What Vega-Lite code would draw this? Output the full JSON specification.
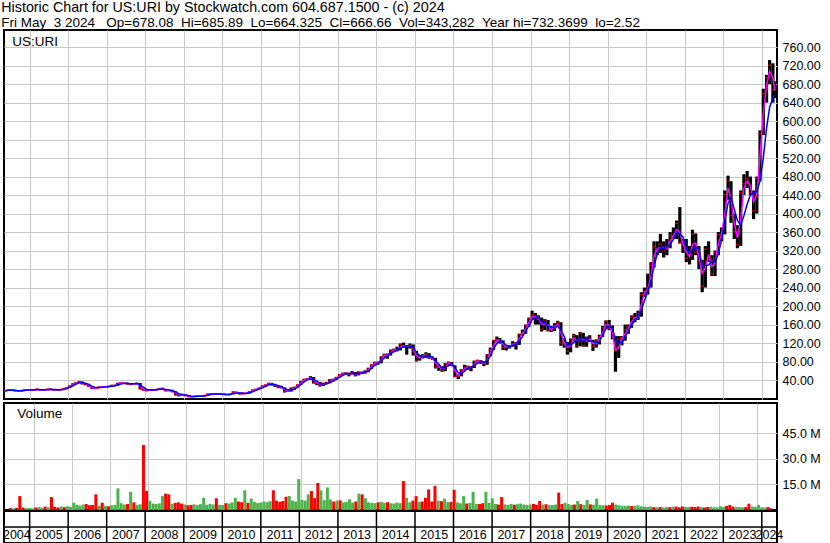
{
"$schema": "https://vega.github.io/schema/vega-lite/v6.json",
"padding": {"left": 1, "top": 1, "right": 0, "bottom": 0},
"background": "white",
"title": {"text": "Historic Chart for US:URI by Stockwatch.com 604.687.1500 - (c) 2024", "subtitle": "Fri May\u00a0\u00a03 2024\u00a0\u00a0\u00a0Op=678.08\u00a0\u00a0Hi=685.89\u00a0\u00a0Lo=664.325\u00a0\u00a0Cl=666.66\u00a0\u00a0Vol=343,282\u00a0\u00a0Year hi=732.3699\u00a0\u00a0lo=2.52", "anchor": "start", "frame": "bounds", "fontSize": 14.3, "subtitleFontSize": 13.5, "subtitleFont": "Liberation Sans", "subtitleColor": "#000000", "subtitlePadding": 0, "offset": 0},
"config": {
 "view": {"stroke": "#000000", "strokeWidth": 2},
 "axis": {"gridColor": "#c8c8c8", "gridWidth": 1, "gridOpacity": 1, "labelFont": "Liberation Sans", "labelFontSize": 12.5, "labelColor": "#000000", "labelOverlap": false, "labelSeparation": 0},
 "title": {"font": "Liberation Sans", "fontWeight": "normal", "color": "#000000"}
},
"datasets": {"p": [
{"d":"2004-05-15","h":18.5,"l":15.5,"c":17.0,"a":17.0,"b":17.0,"v":1.2,"g":0},
{"d":"2004-06-15","h":19.5,"l":16.8,"c":18.5,"a":17.75,"b":17.75,"v":1.0,"g":1},
{"d":"2004-07-15","h":19.5,"l":16.5,"c":18.0,"a":18.25,"b":17.83,"v":1.3,"g":0},
{"d":"2004-08-15","h":18.5,"l":15.5,"c":17.0,"a":17.5,"b":17.83,"v":8.2,"g":0},
{"d":"2004-09-15","h":17.8,"l":15.0,"c":16.0,"a":16.5,"b":17.0,"v":1.5,"g":0},
{"d":"2004-10-15","h":18.0,"l":15.2,"c":17.5,"a":16.75,"b":16.83,"v":1.1,"g":1},
{"d":"2004-11-15","h":19.5,"l":17.0,"c":18.6,"a":18.05,"b":17.37,"v":1.2,"g":1},
{"d":"2004-12-15","h":19.8,"l":17.8,"c":18.9,"a":18.75,"b":18.33,"v":0.9,"g":1},
{"d":"2005-01-15","h":19.5,"l":17.0,"c":17.8,"a":18.35,"b":18.43,"v":1.5,"g":0},
{"d":"2005-02-15","h":20.5,"l":17.5,"c":19.5,"a":18.65,"b":18.73,"v":1.8,"g":1},
{"d":"2005-03-15","h":21.5,"l":19.0,"c":20.2,"a":19.85,"b":19.17,"v":1.4,"g":1},
{"d":"2005-04-15","h":20.5,"l":17.2,"c":18.0,"a":19.1,"b":19.23,"v":2.0,"g":0},
{"d":"2005-05-15","h":19.8,"l":17.5,"c":19.2,"a":18.6,"b":19.13,"v":1.6,"g":1},
{"d":"2005-06-15","h":20.8,"l":18.8,"c":20.2,"a":19.7,"b":19.13,"v":7.6,"g":0},
{"d":"2005-07-15","h":22.0,"l":19.0,"c":19.5,"a":19.85,"b":19.63,"v":1.9,"g":0},
{"d":"2005-08-15","h":20.0,"l":18.0,"c":18.5,"a":19.0,"b":19.4,"v":1.5,"g":0},
{"d":"2005-09-15","h":20.2,"l":17.8,"c":19.7,"a":19.1,"b":19.23,"v":2.1,"g":1},
{"d":"2005-10-15","h":20.0,"l":17.5,"c":18.2,"a":18.95,"b":18.8,"v":1.7,"g":0},
{"d":"2005-11-15","h":22.0,"l":18.0,"c":21.5,"a":19.85,"b":19.8,"v":2.2,"g":1},
{"d":"2005-12-15","h":24.0,"l":21.0,"c":23.4,"a":22.45,"b":21.03,"v":1.9,"g":1},
{"d":"2006-01-15","h":28.5,"l":23.0,"c":27.5,"a":25.45,"b":24.13,"v":4.3,"g":1},
{"d":"2006-02-15","h":33.0,"l":27.0,"c":32.0,"a":29.75,"b":27.63,"v":3.0,"g":1},
{"d":"2006-03-15","h":35.0,"l":31.0,"c":34.4,"a":33.2,"b":31.3,"v":2.6,"g":1},
{"d":"2006-04-15","h":38.0,"l":33.5,"c":36.0,"a":35.2,"b":34.13,"v":3.2,"g":1},
{"d":"2006-05-15","h":37.0,"l":30.5,"c":32.0,"a":34.0,"b":34.13,"v":3.5,"g":0},
{"d":"2006-06-15","h":33.5,"l":28.5,"c":31.8,"a":31.9,"b":33.27,"v":2.8,"g":0},
{"d":"2006-07-15","h":32.0,"l":25.0,"c":26.5,"a":29.15,"b":30.1,"v":3.0,"g":0},
{"d":"2006-08-15","h":26.5,"l":20.5,"c":22.5,"a":24.5,"b":26.93,"v":9.2,"g":0},
{"d":"2006-09-15","h":24.5,"l":21.5,"c":23.3,"a":22.9,"b":24.1,"v":2.5,"g":1},
{"d":"2006-10-15","h":26.0,"l":22.5,"c":24.5,"a":23.9,"b":23.43,"v":4.3,"g":0},
{"d":"2006-11-15","h":27.0,"l":24.0,"c":25.5,"a":25.0,"b":24.43,"v":2.4,"g":1},
{"d":"2006-12-15","h":26.5,"l":24.5,"c":25.4,"a":25.45,"b":25.13,"v":2.2,"g":0},
{"d":"2007-01-15","h":27.5,"l":24.5,"c":26.0,"a":25.7,"b":25.63,"v":2.8,"g":1},
{"d":"2007-02-15","h":29.5,"l":25.5,"c":28.5,"a":27.25,"b":26.63,"v":3.0,"g":1},
{"d":"2007-03-15","h":30.0,"l":26.5,"c":27.5,"a":28.0,"b":27.33,"v":12.7,"g":1},
{"d":"2007-04-15","h":34.0,"l":27.5,"c":33.0,"a":30.25,"b":29.67,"v":4.0,"g":1},
{"d":"2007-05-15","h":35.0,"l":32.5,"c":34.0,"a":33.5,"b":31.5,"v":3.2,"g":1},
{"d":"2007-06-15","h":34.2,"l":32.0,"c":32.5,"a":33.25,"b":33.17,"v":3.5,"g":0},
{"d":"2007-07-15","h":34.0,"l":30.0,"c":32.2,"a":32.35,"b":32.9,"v":10.7,"g":1},
{"d":"2007-08-15","h":33.0,"l":29.0,"c":31.5,"a":31.85,"b":32.07,"v":4.5,"g":0},
{"d":"2007-09-15","h":33.0,"l":30.5,"c":32.2,"a":31.85,"b":31.97,"v":3.0,"g":1},
{"d":"2007-10-15","h":34.0,"l":31.5,"c":33.2,"a":32.7,"b":32.3,"v":3.4,"g":1},
{"d":"2007-11-15","h":33.5,"l":19.5,"c":22.0,"a":27.6,"b":29.13,"v":38.2,"g":0},
{"d":"2007-12-15","h":22.0,"l":17.0,"c":18.4,"a":20.2,"b":24.53,"v":11.2,"g":0},
{"d":"2008-01-15","h":20.0,"l":15.5,"c":18.5,"a":18.45,"b":19.63,"v":5.3,"g":1},
{"d":"2008-02-15","h":20.5,"l":17.0,"c":18.5,"a":18.5,"b":18.47,"v":3.8,"g":1},
{"d":"2008-03-15","h":20.0,"l":16.5,"c":18.8,"a":18.65,"b":18.6,"v":3.5,"g":1},
{"d":"2008-04-15","h":21.0,"l":17.8,"c":19.2,"a":19.0,"b":18.83,"v":3.9,"g":1},
{"d":"2008-05-15","h":23.0,"l":18.8,"c":21.5,"a":20.35,"b":19.83,"v":8.2,"g":1},
{"d":"2008-06-15","h":23.5,"l":19.0,"c":19.6,"a":20.55,"b":20.1,"v":9.6,"g":0},
{"d":"2008-07-15","h":20.5,"l":15.5,"c":17.0,"a":18.3,"b":19.37,"v":9.2,"g":0},
{"d":"2008-08-15","h":19.5,"l":16.0,"c":18.0,"a":17.5,"b":18.2,"v":3.6,"g":1},
{"d":"2008-09-15","h":19.0,"l":13.5,"c":15.2,"a":16.6,"b":16.73,"v":4.2,"g":0},
{"d":"2008-10-15","h":15.5,"l":6.5,"c":9.0,"a":12.1,"b":14.07,"v":4.5,"g":0},
{"d":"2008-11-15","h":9.5,"l":4.5,"c":7.0,"a":8.0,"b":10.4,"v":3.8,"g":0},
{"d":"2008-12-15","h":10.0,"l":6.5,"c":9.1,"a":8.05,"b":8.37,"v":3.2,"g":1},
{"d":"2009-01-15","h":9.5,"l":5.5,"c":6.0,"a":7.55,"b":7.37,"v":2.8,"g":0},
{"d":"2009-02-15","h":6.5,"l":3.2,"c":4.0,"a":5.0,"b":6.37,"v":3.0,"g":0},
{"d":"2009-03-15","h":5.0,"l":2.5,"c":4.2,"a":4.1,"b":4.73,"v":3.3,"g":1},
{"d":"2009-04-15","h":6.0,"l":3.8,"c":4.5,"a":4.35,"b":4.23,"v":2.9,"g":1},
{"d":"2009-05-15","h":6.5,"l":4.2,"c":5.5,"a":5.0,"b":4.73,"v":3.4,"g":1},
{"d":"2009-06-15","h":6.5,"l":4.8,"c":5.2,"a":5.35,"b":5.07,"v":7.2,"g":1},
{"d":"2009-07-15","h":7.0,"l":4.8,"c":6.5,"a":5.85,"b":5.73,"v":3.1,"g":1},
{"d":"2009-08-15","h":10.5,"l":6.3,"c":9.5,"a":8.0,"b":7.07,"v":3.6,"g":1},
{"d":"2009-09-15","h":11.5,"l":8.8,"c":10.3,"a":9.9,"b":8.77,"v":3.2,"g":1},
{"d":"2009-10-15","h":11.0,"l":8.5,"c":9.0,"a":9.65,"b":9.6,"v":6.9,"g":0},
{"d":"2009-11-15","h":10.5,"l":8.2,"c":9.5,"a":9.25,"b":9.6,"v":3.0,"g":1},
{"d":"2009-12-15","h":10.8,"l":9.0,"c":9.8,"a":9.65,"b":9.43,"v":2.9,"g":1},
{"d":"2010-01-15","h":11.0,"l":8.0,"c":8.3,"a":9.05,"b":9.2,"v":4.0,"g":0},
{"d":"2010-02-15","h":9.5,"l":7.5,"c":8.5,"a":8.4,"b":8.87,"v":3.8,"g":1},
{"d":"2010-03-15","h":10.5,"l":8.0,"c":9.4,"a":8.95,"b":8.73,"v":4.5,"g":1},
{"d":"2010-04-15","h":15.5,"l":9.0,"c":14.0,"a":11.7,"b":10.63,"v":7.2,"g":1},
{"d":"2010-05-15","h":15.0,"l":10.5,"c":12.5,"a":13.25,"b":11.97,"v":5.0,"g":0},
{"d":"2010-06-15","h":13.0,"l":9.0,"c":9.3,"a":10.9,"b":11.93,"v":4.6,"g":0},
{"d":"2010-07-15","h":12.5,"l":9.0,"c":12.0,"a":10.65,"b":11.27,"v":11.6,"g":1},
{"d":"2010-08-15","h":12.5,"l":9.8,"c":11.0,"a":11.5,"b":10.77,"v":4.2,"g":0},
{"d":"2010-09-15","h":15.5,"l":10.8,"c":14.8,"a":12.9,"b":12.6,"v":6.7,"g":1},
{"d":"2010-10-15","h":19.0,"l":14.5,"c":18.5,"a":16.65,"b":14.77,"v":4.8,"g":1},
{"d":"2010-11-15","h":21.0,"l":17.5,"c":20.0,"a":19.25,"b":17.77,"v":4.1,"g":1},
{"d":"2010-12-15","h":23.5,"l":19.5,"c":22.7,"a":21.35,"b":20.4,"v":4.4,"g":1},
{"d":"2011-01-15","h":28.0,"l":22.5,"c":27.0,"a":24.85,"b":23.23,"v":5.0,"g":1},
{"d":"2011-02-15","h":30.5,"l":25.5,"c":30.0,"a":28.5,"b":26.57,"v":4.6,"g":1},
{"d":"2011-03-15","h":33.8,"l":28.5,"c":33.3,"a":31.65,"b":30.1,"v":5.2,"g":1},
{"d":"2011-04-15","h":34.0,"l":28.5,"c":30.0,"a":31.65,"b":31.1,"v":11.6,"g":0},
{"d":"2011-05-15","h":30.5,"l":25.0,"c":27.5,"a":28.75,"b":30.27,"v":5.5,"g":0},
{"d":"2011-06-15","h":28.0,"l":22.5,"c":25.4,"a":26.45,"b":27.63,"v":4.8,"g":0},
{"d":"2011-07-15","h":27.5,"l":22.0,"c":24.0,"a":24.7,"b":25.63,"v":5.3,"g":0},
{"d":"2011-08-15","h":24.0,"l":13.0,"c":15.5,"a":19.75,"b":21.63,"v":7.8,"g":0},
{"d":"2011-09-15","h":19.5,"l":14.0,"c":16.8,"a":16.15,"b":18.77,"v":8.2,"g":1},
{"d":"2011-10-15","h":24.0,"l":15.0,"c":20.0,"a":18.4,"b":17.43,"v":5.6,"g":1},
{"d":"2011-11-15","h":25.5,"l":18.5,"c":24.0,"a":22.0,"b":20.27,"v":5.0,"g":1},
{"d":"2011-12-15","h":30.5,"l":23.5,"c":29.6,"a":26.8,"b":24.53,"v":18.2,"g":1},
{"d":"2012-01-15","h":38.0,"l":29.5,"c":37.0,"a":33.3,"b":30.2,"v":6.0,"g":1},
{"d":"2012-02-15","h":42.5,"l":36.0,"c":41.5,"a":39.25,"b":36.03,"v":5.5,"g":1},
{"d":"2012-03-15","h":44.0,"l":40.0,"c":42.9,"a":42.2,"b":40.47,"v":9.2,"g":1},
{"d":"2012-04-15","h":48.5,"l":41.0,"c":46.0,"a":44.45,"b":43.47,"v":11.2,"g":0},
{"d":"2012-05-15","h":46.5,"l":32.5,"c":33.8,"a":39.9,"b":40.9,"v":7.0,"g":0},
{"d":"2012-06-15","h":35.5,"l":29.0,"c":34.0,"a":33.9,"b":37.93,"v":15.9,"g":0},
{"d":"2012-07-15","h":36.0,"l":26.0,"c":28.0,"a":31.0,"b":31.93,"v":11.6,"g":1},
{"d":"2012-08-15","h":34.0,"l":27.0,"c":33.0,"a":30.5,"b":31.67,"v":5.8,"g":1},
{"d":"2012-09-15","h":36.0,"l":31.5,"c":32.7,"a":32.85,"b":31.23,"v":13.3,"g":1},
{"d":"2012-10-15","h":42.0,"l":32.5,"c":40.5,"a":36.6,"b":35.4,"v":6.2,"g":1},
{"d":"2012-11-15","h":43.0,"l":37.0,"c":40.5,"a":40.5,"b":37.9,"v":5.0,"g":0},
{"d":"2012-12-15","h":46.5,"l":40.0,"c":45.5,"a":43.0,"b":42.17,"v":5.5,"g":1},
{"d":"2013-01-15","h":52.5,"l":45.5,"c":51.5,"a":48.5,"b":45.83,"v":5.7,"g":0},
{"d":"2013-02-15","h":56.0,"l":50.5,"c":54.0,"a":52.75,"b":50.33,"v":4.5,"g":1},
{"d":"2013-03-15","h":56.5,"l":52.0,"c":55.0,"a":54.5,"b":53.5,"v":4.8,"g":1},
{"d":"2013-04-15","h":56.0,"l":48.0,"c":52.5,"a":53.75,"b":53.83,"v":6.3,"g":1},
{"d":"2013-05-15","h":59.5,"l":52.0,"c":57.0,"a":54.75,"b":54.83,"v":4.4,"g":1},
{"d":"2013-06-15","h":57.5,"l":48.0,"c":50.0,"a":53.5,"b":53.17,"v":5.0,"g":0},
{"d":"2013-07-15","h":58.5,"l":50.0,"c":57.5,"a":53.75,"b":54.83,"v":9.6,"g":1},
{"d":"2013-08-15","h":58.5,"l":53.0,"c":55.0,"a":56.25,"b":54.17,"v":9.2,"g":0},
{"d":"2013-09-15","h":61.0,"l":54.0,"c":58.3,"a":56.65,"b":56.93,"v":6.9,"g":1},
{"d":"2013-10-15","h":66.5,"l":57.0,"c":65.0,"a":61.65,"b":59.43,"v":4.5,"g":1},
{"d":"2013-11-15","h":74.0,"l":64.5,"c":72.5,"a":68.75,"b":65.27,"v":4.2,"g":1},
{"d":"2013-12-15","h":79.5,"l":71.0,"c":78.0,"a":75.25,"b":71.83,"v":4.0,"g":1},
{"d":"2014-01-15","h":80,"l":73,"c":77,"a":77.5,"b":75.83,"v":4.5,"g":0},
{"d":"2014-02-15","h":91.5,"l":76,"c":90,"a":83.5,"b":81.67,"v":4.8,"g":1},
{"d":"2014-03-15","h":97,"l":88,"c":95,"a":92.5,"b":87.33,"v":4.2,"g":1},
{"d":"2014-04-15","h":97.5,"l":86,"c":94,"a":94.5,"b":93,"v":4.6,"g":0},
{"d":"2014-05-15","h":106,"l":93,"c":104,"a":99,"b":97.67,"v":3.9,"g":1},
{"d":"2014-06-15","h":108,"l":101,"c":105,"a":104.5,"b":101,"v":3.8,"g":1},
{"d":"2014-07-15","h":112,"l":102,"c":106,"a":105.5,"b":105,"v":4.4,"g":1},
{"d":"2014-08-15","h":119,"l":104,"c":117,"a":111.5,"b":109.33,"v":4.0,"g":1},
{"d":"2014-09-15","h":121,"l":110,"c":111,"a":114,"b":111.33,"v":17.0,"g":0},
{"d":"2014-10-15","h":116,"l":95,"c":114,"a":112.5,"b":114,"v":7.2,"g":1},
{"d":"2014-11-15","h":119,"l":108,"c":115,"a":114.5,"b":113.33,"v":4.5,"g":1},
{"d":"2014-12-15","h":117,"l":93,"c":102,"a":108.5,"b":110.33,"v":5.5,"g":0},
{"d":"2015-01-15","h":103,"l":80,"c":83,"a":92.5,"b":100,"v":8.2,"g":0},
{"d":"2015-02-15","h":94,"l":82,"c":92,"a":87.5,"b":92.33,"v":4.8,"g":1},
{"d":"2015-03-15","h":96,"l":87,"c":91,"a":91.5,"b":88.67,"v":5.0,"g":0},
{"d":"2015-04-15","h":100,"l":88,"c":96,"a":93.5,"b":93,"v":7.2,"g":0},
{"d":"2015-05-15","h":98,"l":86,"c":88,"a":92,"b":91.67,"v":12.1,"g":0},
{"d":"2015-06-15","h":90,"l":84,"c":87,"a":87.5,"b":90.33,"v":5.0,"g":0},
{"d":"2015-07-15","h":88,"l":65,"c":68,"a":77.5,"b":81,"v":14.1,"g":0},
{"d":"2015-08-15","h":73,"l":60,"c":68,"a":68,"b":74.33,"v":5.5,"g":1},
{"d":"2015-09-15","h":70,"l":58,"c":60,"a":64,"b":65.33,"v":5.2,"g":0},
{"d":"2015-10-15","h":77,"l":59,"c":75,"a":67.5,"b":67.67,"v":6.7,"g":1},
{"d":"2015-11-15","h":80,"l":70,"c":78,"a":76.5,"b":71,"v":4.6,"g":1},
{"d":"2015-12-15","h":79,"l":70,"c":72.5,"a":75.25,"b":75.17,"v":4.8,"g":0},
{"d":"2016-01-15","h":72,"l":46,"c":48,"a":60.25,"b":66.17,"v":11.9,"g":0},
{"d":"2016-02-15","h":53,"l":42,"c":49,"a":48.5,"b":56.5,"v":4.5,"g":1},
{"d":"2016-03-15","h":64,"l":48,"c":62,"a":55.5,"b":53,"v":4.0,"g":1},
{"d":"2016-04-15","h":73,"l":59,"c":68,"a":65,"b":59.67,"v":8.2,"g":1},
{"d":"2016-05-15","h":71,"l":62,"c":67,"a":67.5,"b":65.67,"v":3.8,"g":0},
{"d":"2016-06-15","h":70,"l":59,"c":67,"a":67,"b":67.33,"v":4.2,"g":1},
{"d":"2016-07-15","h":82,"l":66,"c":80,"a":73.5,"b":71.33,"v":10.7,"g":1},
{"d":"2016-08-15","h":84,"l":77,"c":82,"a":81,"b":76.33,"v":3.6,"g":1},
{"d":"2016-09-15","h":83,"l":75,"c":78,"a":80,"b":80,"v":3.5,"g":0},
{"d":"2016-10-15","h":80,"l":70,"c":75,"a":76.5,"b":78.33,"v":4.0,"g":0},
{"d":"2016-11-15","h":96,"l":73,"c":93,"a":84,"b":82,"v":10.7,"g":1},
{"d":"2016-12-15","h":110,"l":92,"c":105.5,"a":99.25,"b":91.17,"v":4.1,"g":1},
{"d":"2017-01-15","h":127,"l":105,"c":125,"a":115.25,"b":107.83,"v":6.9,"g":1},
{"d":"2017-02-15","h":134,"l":122,"c":127,"a":126,"b":119.17,"v":3.5,"g":1},
{"d":"2017-03-15","h":131,"l":119,"c":125,"a":126,"b":125.67,"v":3.2,"g":0},
{"d":"2017-04-15","h":126,"l":105,"c":110,"a":117.5,"b":120.67,"v":7.6,"g":0},
{"d":"2017-05-15","h":115,"l":104,"c":112,"a":111,"b":115.67,"v":3.3,"g":1},
{"d":"2017-06-15","h":116,"l":108,"c":113,"a":112.5,"b":111.67,"v":3.0,"g":1},
{"d":"2017-07-15","h":124,"l":112,"c":119,"a":116,"b":114.67,"v":3.6,"g":1},
{"d":"2017-08-15","h":122,"l":106,"c":119,"a":119,"b":117,"v":3.1,"g":0},
{"d":"2017-09-15","h":140,"l":116,"c":139,"a":129,"b":125.67,"v":3.4,"g":1},
{"d":"2017-10-15","h":149,"l":136,"c":142,"a":140.5,"b":133.33,"v":3.8,"g":1},
{"d":"2017-11-15","h":160,"l":140,"c":158,"a":150,"b":146.33,"v":3.2,"g":1},
{"d":"2017-12-15","h":175,"l":155,"c":172,"a":165,"b":157.33,"v":3.0,"g":1},
{"d":"2018-01-15","h":190,"l":170,"c":181,"a":176.5,"b":170.33,"v":3.2,"g":1},
{"d":"2018-02-15","h":185,"l":160,"c":175,"a":178,"b":176,"v":3.6,"g":0},
{"d":"2018-03-15","h":180,"l":160,"c":172,"a":173.5,"b":176,"v":3.0,"g":0},
{"d":"2018-04-15","h":175,"l":145,"c":150,"a":161,"b":165.67,"v":5.3,"g":0},
{"d":"2018-05-15","h":172,"l":148,"c":170,"a":160,"b":164,"v":3.1,"g":1},
{"d":"2018-06-15","h":170,"l":145,"c":148,"a":159,"b":156,"v":3.4,"g":0},
{"d":"2018-07-15","h":155,"l":144,"c":149,"a":148.5,"b":155.67,"v":3.0,"g":1},
{"d":"2018-08-15","h":163,"l":146,"c":158,"a":153.5,"b":151.67,"v":2.9,"g":1},
{"d":"2018-09-15","h":168,"l":155,"c":164,"a":161,"b":157,"v":3.2,"g":1},
{"d":"2018-10-15","h":165,"l":114,"c":120,"a":142,"b":147.33,"v":10.2,"g":0},
{"d":"2018-11-15","h":130,"l":110,"c":120,"a":120,"b":134.67,"v":3.5,"g":0},
{"d":"2018-12-15","h":122,"l":95,"c":102,"a":111,"b":114,"v":4.3,"g":1},
{"d":"2019-01-15","h":130,"l":100,"c":126,"a":114,"b":116,"v":3.5,"g":1},
{"d":"2019-02-15","h":140,"l":124,"c":136,"a":131,"b":121.33,"v":3.0,"g":1},
{"d":"2019-03-15","h":137,"l":110,"c":114,"a":125,"b":125.33,"v":3.2,"g":0},
{"d":"2019-04-15","h":144,"l":113,"c":141,"a":127.5,"b":130.33,"v":5.3,"g":1},
{"d":"2019-05-15","h":142,"l":112,"c":115,"a":128,"b":123.33,"v":3.4,"g":0},
{"d":"2019-06-15","h":134,"l":112,"c":132,"a":123.5,"b":129.33,"v":3.0,"g":1},
{"d":"2019-07-15","h":137,"l":122,"c":126,"a":129,"b":124.33,"v":5.9,"g":1},
{"d":"2019-08-15","h":127,"l":103,"c":112,"a":119,"b":123.33,"v":3.3,"g":0},
{"d":"2019-09-15","h":128,"l":110,"c":125,"a":118.5,"b":121,"v":3.1,"g":1},
{"d":"2019-10-15","h":138,"l":117,"c":133,"a":129,"b":123.33,"v":6.7,"g":1},
{"d":"2019-11-15","h":157,"l":133,"c":153,"a":143,"b":137,"v":2.9,"g":1},
{"d":"2019-12-15","h":169,"l":150,"c":167,"a":160,"b":151,"v":2.8,"g":1},
{"d":"2020-01-15","h":170,"l":148,"c":152,"a":159.5,"b":157.33,"v":2.6,"g":0},
{"d":"2020-02-15","h":158,"l":128,"c":133,"a":142.5,"b":150.67,"v":3.0,"g":0},
{"d":"2020-03-15","h":135,"l":58,"c":103,"a":105,"b":129.33,"v":4.3,"g":0},
{"d":"2020-04-15","h":135,"l":88,"c":128,"a":110,"b":121.33,"v":3.2,"g":1},
{"d":"2020-05-15","h":135,"l":115,"c":130,"a":129,"b":120.33,"v":2.8,"g":1},
{"d":"2020-06-15","h":160,"l":125,"c":149,"a":139.5,"b":135.67,"v":2.5,"g":1},
{"d":"2020-07-15","h":160,"l":140,"c":155,"a":152,"b":144.67,"v":2.4,"g":1},
{"d":"2020-08-15","h":180,"l":153,"c":177,"a":166,"b":160.33,"v":2.6,"g":1},
{"d":"2020-09-15","h":185,"l":165,"c":174,"a":175.5,"b":168.67,"v":2.3,"g":0},
{"d":"2020-10-15","h":190,"l":170,"c":178,"a":176,"b":176.33,"v":2.5,"g":1},
{"d":"2020-11-15","h":230,"l":177,"c":225,"a":201.5,"b":192.33,"v":2.7,"g":1},
{"d":"2020-12-15","h":240,"l":220,"c":232,"a":228.5,"b":211.67,"v":2.2,"g":1},
{"d":"2021-01-15","h":270,"l":225,"c":241,"a":236.5,"b":232.67,"v":2.0,"g":1},
{"d":"2021-02-15","h":295,"l":240,"c":288,"a":264.5,"b":253.67,"v":1.8,"g":1},
{"d":"2021-03-15","h":340,"l":283,"c":329,"a":308.5,"b":286,"v":2.1,"g":1},
{"d":"2021-04-15","h":340,"l":310,"c":320,"a":324.5,"b":312.33,"v":1.7,"g":0},
{"d":"2021-05-15","h":356,"l":315,"c":334,"a":327,"b":327.67,"v":1.6,"g":1},
{"d":"2021-06-15","h":340,"l":305,"c":319,"a":326.5,"b":324.33,"v":1.8,"g":0},
{"d":"2021-07-15","h":345,"l":310,"c":329,"a":324,"b":327.33,"v":1.5,"g":1},
{"d":"2021-08-15","h":360,"l":325,"c":352,"a":340.5,"b":333.33,"v":1.6,"g":1},
{"d":"2021-09-15","h":370,"l":345,"c":351,"a":351.5,"b":344,"v":1.7,"g":0},
{"d":"2021-10-15","h":385,"l":345,"c":379,"a":365,"b":360.67,"v":1.9,"g":1},
{"d":"2021-11-15","h":414,"l":335,"c":338,"a":358.5,"b":356,"v":2.0,"g":0},
{"d":"2021-12-15","h":345,"l":315,"c":332,"a":335,"b":349.67,"v":1.6,"g":0},
{"d":"2022-01-15","h":345,"l":295,"c":303,"a":317.5,"b":324.33,"v":2.1,"g":0},
{"d":"2022-02-15","h":330,"l":290,"c":310,"a":306.5,"b":315,"v":1.8,"g":1},
{"d":"2022-03-15","h":365,"l":300,"c":355,"a":332.5,"b":322.67,"v":1.7,"g":1},
{"d":"2022-04-15","h":357,"l":310,"c":317,"a":336,"b":327.33,"v":1.9,"g":0},
{"d":"2022-05-15","h":330,"l":280,"c":298,"a":307.5,"b":323.33,"v":1.8,"g":0},
{"d":"2022-06-15","h":300,"l":230,"c":243,"a":270.5,"b":286,"v":2.0,"g":0},
{"d":"2022-07-15","h":330,"l":240,"c":323,"a":283,"b":288,"v":1.7,"g":1},
{"d":"2022-08-15","h":340,"l":295,"c":300,"a":311.5,"b":288.67,"v":1.5,"g":0},
{"d":"2022-09-15","h":310,"l":265,"c":270,"a":285,"b":297.67,"v":1.8,"g":0},
{"d":"2022-10-15","h":320,"l":265,"c":316,"a":293,"b":295.33,"v":1.9,"g":1},
{"d":"2022-11-15","h":360,"l":310,"c":355,"a":335.5,"b":313.67,"v":1.6,"g":1},
{"d":"2022-12-15","h":370,"l":340,"c":355,"a":355,"b":342,"v":1.5,"g":1},
{"d":"2023-01-15","h":450,"l":355,"c":441,"a":398,"b":383.67,"v":2.2,"g":1},
{"d":"2023-02-15","h":482,"l":430,"c":470,"a":455.5,"b":422,"v":1.9,"g":1},
{"d":"2023-03-15","h":470,"l":380,"c":396,"a":433,"b":435.67,"v":2.4,"g":0},
{"d":"2023-04-15","h":400,"l":345,"c":361,"a":378.5,"b":409,"v":3.0,"g":0},
{"d":"2023-05-15","h":375,"l":325,"c":333,"a":347,"b":385,"v":2.0,"g":0},
{"d":"2023-06-15","h":450,"l":330,"c":445,"a":389,"b":375,"v":1.8,"g":1},
{"d":"2023-07-15","h":485,"l":440,"c":465,"a":455,"b":395,"v":1.7,"g":1},
{"d":"2023-08-15","h":492,"l":455,"c":476,"a":470.5,"b":420,"v":1.6,"g":1},
{"d":"2023-09-15","h":480,"l":440,"c":445,"a":460.5,"b":440,"v":1.8,"g":0},
{"d":"2023-10-15","h":450,"l":388,"c":406,"a":425.5,"b":445,"v":3.7,"g":0},
{"d":"2023-11-15","h":480,"l":400,"c":476,"a":441,"b":448,"v":2.1,"g":1},
{"d":"2023-12-15","h":580,"l":470,"c":573,"a":524.5,"b":470,"v":1.9,"g":1},
{"d":"2024-01-15","h":670,"l":570,"c":660,"a":616.5,"b":520,"v":3.0,"g":1},
{"d":"2024-02-15","h":700,"l":640,"c":694,"a":677,"b":585,"v":1.6,"g":1},
{"d":"2024-03-15","h":732,"l":680,"c":721,"a":707.5,"b":630,"v":1.5,"g":1},
{"d":"2024-04-15","h":725,"l":640,"c":668,"a":694.5,"b":650,"v":1.7,"g":0},
{"d":"2024-05-02","h":686,"l":650,"c":667,"a":667.5,"b":657,"v":1.2,"g":0}
]},
"spacing": 1,
"vconcat": [
 {
  "width": 773, "height": 369,
  "data": {"name": "p"},
  "resolve": {"axis": {"y": "independent"}},
  "encoding": {"x": {"field": "d", "type": "temporal", "scale": {"type": "utc", "domain": [{"year": 2004, "month": 5, "date": 3, "utc": true}, {"year": 2024, "month": 5, "date": 24, "utc": true}]}, "axis": {"values": [{"year":2005,"utc":true},{"year":2006,"utc":true},{"year":2007,"utc":true},{"year":2008,"utc":true},{"year":2009,"utc":true},{"year":2010,"utc":true},{"year":2011,"utc":true},{"year":2012,"utc":true},{"year":2013,"utc":true},{"year":2014,"utc":true},{"year":2015,"utc":true},{"year":2016,"utc":true},{"year":2017,"utc":true},{"year":2018,"utc":true},{"year":2019,"utc":true},{"year":2020,"utc":true},{"year":2021,"utc":true},{"year":2022,"utc":true},{"year":2023,"utc":true},{"year":2024,"utc":true}], "grid": true, "labels": false, "ticks": false, "domain": false, "title": null}}},
  "layer": [
   {"mark": {"type": "rule", "color": "#000000", "strokeWidth": 3.2}, "encoding": {"y": {"field": "l", "type": "quantitative", "scale": {"domain": [-1, 797], "nice": false, "zero": false}, "axis": {"orient": "right", "values": [40,80,120,160,200,240,280,320,360,400,440,480,520,560,600,640,680,720,760], "format": ".2f", "grid": true, "ticks": false, "domain": false, "labelPadding": 5, "labelOverlap": false, "title": null}}, "y2": {"field": "h"}}},
   {"mark": {"type": "tick", "orient": "horizontal", "color": "#ff0000", "thickness": 1.5, "size": 3}, "encoding": {"y": {"field": "c", "type": "quantitative", "axis": null}}},
   {"mark": {"type": "line", "color": "#ff00ff", "strokeWidth": 1.5}, "encoding": {"y": {"field": "a", "type": "quantitative", "axis": null}}},
   {"mark": {"type": "line", "color": "#0000ff", "strokeWidth": 1.5}, "encoding": {"y": {"field": "b", "type": "quantitative", "axis": null}}},
   {"mark": {"type": "text", "font": "Liberation Sans", "fontSize": 13.5, "color": "#000000", "align": "left", "baseline": "alphabetic", "dx": 7}, "encoding": {"x": {"aggregate": "min", "field": "d", "type": "temporal"}, "y": {"datum": 763, "type": "quantitative", "axis": null}, "text": {"value": "US:URI"}}}
  ]
 },
 {
  "spacing": -2,
  "vconcat": [
   {
    "width": 773, "height": 107,
    "data": {"name": "p"},
    "resolve": {"axis": {"y": "independent"}},
    "encoding": {
     "x": {"field": "d", "type": "temporal", "scale": {"type": "utc", "domain": [{"year": 2004, "month": 5, "date": 3, "utc": true}, {"year": 2024, "month": 5, "date": 24, "utc": true}]}, "axis": {"values": [{"year":2005,"utc":true},{"year":2006,"utc":true},{"year":2007,"utc":true},{"year":2008,"utc":true},{"year":2009,"utc":true},{"year":2010,"utc":true},{"year":2011,"utc":true},{"year":2012,"utc":true},{"year":2013,"utc":true},{"year":2014,"utc":true},{"year":2015,"utc":true},{"year":2016,"utc":true},{"year":2017,"utc":true},{"year":2018,"utc":true},{"year":2019,"utc":true},{"year":2020,"utc":true},{"year":2021,"utc":true},{"year":2022,"utc":true},{"year":2023,"utc":true},{"year":2024,"utc":true}], "grid": true, "labels": false, "ticks": false, "domain": false, "title": null}}
    },
    "layer": [
     {"mark": {"type": "bar", "width": 3},
      "encoding": {
       "y": {"field": "v", "type": "quantitative", "scale": {"domain": [0, 62.9], "nice": false}, "axis": {"orient": "right", "values": [15, 30, 45], "labelExpr": "format(datum.value, '.1f') + ' M'", "grid": true, "ticks": false, "domain": false, "labelPadding": 5, "labelOverlap": false, "title": null}},
       "color": {"field": "g", "type": "nominal", "scale": {"domain": [0, 1], "range": ["#ff0000", "#4cb34c"]}, "legend": null}
      }},
     {"mark": {"type": "text", "font": "Liberation Sans", "fontSize": 13.5, "color": "#000000", "align": "left", "baseline": "alphabetic", "dx": 7}, "encoding": {"x": {"aggregate": "min", "field": "d", "type": "temporal"}, "y": {"datum": 54, "type": "quantitative", "axis": null}, "text": {"value": "Volume"}}}
    ]
   },
   {
    "width": 773, "height": 32,
    "layer": [
     {"data": {"values": [{"s":"2005-01-01"},{"s":"2006-01-01"},{"s":"2007-01-01"},{"s":"2008-01-01"},{"s":"2009-01-01"},{"s":"2010-01-01"},{"s":"2011-01-01"},{"s":"2012-01-01"},{"s":"2013-01-01"},{"s":"2014-01-01"},{"s":"2015-01-01"},{"s":"2016-01-01"},{"s":"2017-01-01"},{"s":"2018-01-01"},{"s":"2019-01-01"},{"s":"2020-01-01"},{"s":"2021-01-01"},{"s":"2022-01-01"},{"s":"2023-01-01"},{"s":"2024-01-01"}]},
      "mark": {"type": "rule", "color": "#000000", "strokeWidth": 1.5},
      "encoding": {"x": {"field": "s", "type": "temporal", "scale": {"type": "utc", "domain": [{"year": 2004, "month": 5, "date": 3, "utc": true}, {"year": 2024, "month": 5, "date": 24, "utc": true}]}, "axis": null}}},
     {"data": {"values": [{}]},
      "mark": {"type": "rule", "color": "#000000", "strokeWidth": 1.5},
      "encoding": {"y": {"datum": 1, "type": "quantitative", "scale": {"domain": [0, 2], "nice": false}, "axis": null}}},
     {"data": {"values": [{"yr":"2004","m":"2004-09-02"},{"yr":"2005","m":"2005-07-02"},{"yr":"2006","m":"2006-07-02"},{"yr":"2007","m":"2007-07-02"},{"yr":"2008","m":"2008-07-02"},{"yr":"2009","m":"2009-07-02"},{"yr":"2010","m":"2010-07-02"},{"yr":"2011","m":"2011-07-02"},{"yr":"2012","m":"2012-07-02"},{"yr":"2013","m":"2013-07-02"},{"yr":"2014","m":"2014-07-02"},{"yr":"2015","m":"2015-07-02"},{"yr":"2016","m":"2016-07-02"},{"yr":"2017","m":"2017-07-02"},{"yr":"2018","m":"2018-07-02"},{"yr":"2019","m":"2019-07-02"},{"yr":"2020","m":"2020-07-02"},{"yr":"2021","m":"2021-07-02"},{"yr":"2022","m":"2022-07-02"},{"yr":"2023","m":"2023-07-02"},{"yr":"2024","m":"2024-03-13"}]},
      "mark": {"type": "text", "font": "Liberation Sans", "fontSize": 12.5, "color": "#000000", "baseline": "middle", "align": "center"},
      "encoding": {"x": {"field": "m", "type": "temporal"}, "y": {"datum": 0.5, "type": "quantitative"}, "text": {"field": "yr", "type": "nominal"}}}
    ]
   }
  ]
 }
]
}
